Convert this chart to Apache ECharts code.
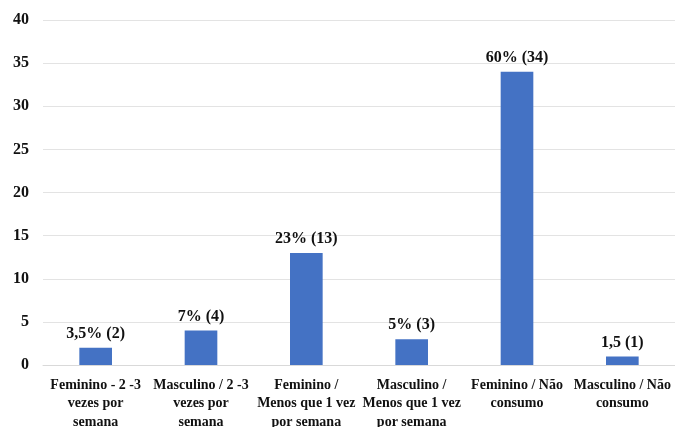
<!DOCTYPE html>
<html>
<head>
<meta charset="utf-8">
<script src="https://cdn.jsdelivr.net/npm/echarts@6/dist/echarts.min.js"></script>
<style>
  html, body { margin: 0; padding: 0; background: #fff; }
  #chart { width: 675px; height: 427px; }
</style>
</head>
<body>
<div id="chart"></div>
<script>
// Consumption frequency by sex (counts, with percentage labels)
const categories = [
  'Feminino - 2 -3\nvezes por\nsemana',
  'Masculino / 2 -3\nvezes por\nsemana',
  'Feminino /\nMenos que 1 vez\npor semana',
  'Masculino /\nMenos que 1 vez\npor semana',
  'Feminino / Não\nconsumo',
  'Masculino / Não\nconsumo'
];
const counts = [2, 4, 13, 3, 34, 1];
const barLabels = ['3,5% (2)', '7% (4)', '23% (13)', '5% (3)', '60% (34)', '1,5 (1)'];
const yTicks = { min: 0, max: 40, interval: 5 };

const serif = '"Liberation Serif", "DejaVu Serif", serif';
const chart = echarts.init(document.getElementById('chart'));
chart.setOption({
  animation: false,
  backgroundColor: '#ffffff',
  grid: { left: 43, right: 0, top: 20, bottom: 62, outerBoundsMode: 'none', containLabel: false },
  xAxis: {
    type: 'category',
    data: categories,
    axisLine: { show: true, lineStyle: { color: '#d9d9d9', width: 1 } },
    axisTick: { show: false },
    axisLabel: {
      interval: 0,
      margin: 11,
      fontFamily: serif,
      fontWeight: 'bold',
      fontSize: 14,
      lineHeight: 18.5,
      color: '#111111'
    }
  },
  yAxis: {
    type: 'value',
    min: yTicks.min,
    max: yTicks.max,
    interval: yTicks.interval,
    axisLine: { show: false },
    axisTick: { show: false },
    splitLine: { lineStyle: { color: '#e3e3e3', width: 1 } },
    axisLabel: {
      margin: 14,
      fontFamily: serif,
      fontWeight: 'bold',
      fontSize: 16,
      color: '#111111'
    }
  },
  series: [{
    type: 'bar',
    data: counts,
    barWidth: '31%',
    itemStyle: { color: '#4472c4' },
    label: {
      show: true,
      position: 'top',
      distance: 6,
      fontFamily: serif,
      fontWeight: 'bold',
      fontSize: 16,
      color: '#111111',
      formatter: p => barLabels[p.dataIndex]
    }
  }]
});
</script>
</body>
</html>
